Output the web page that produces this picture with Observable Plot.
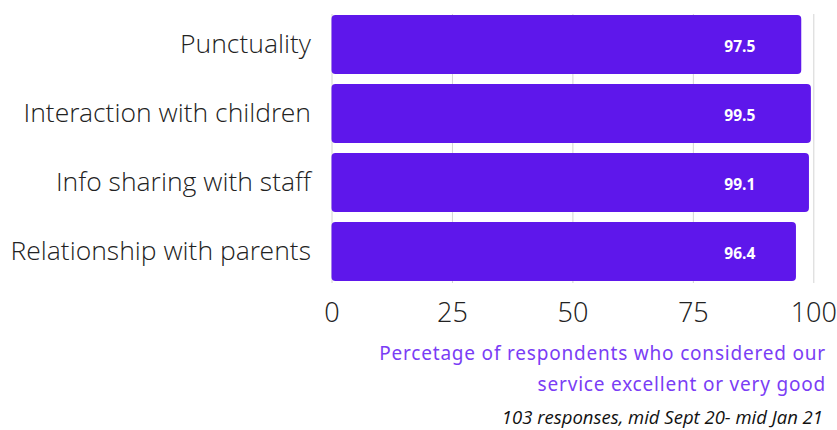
<!DOCTYPE html>
<html>
<head>
<meta charset="utf-8">
<script src="https://cdn.jsdelivr.net/npm/d3@7"></script>
<script src="https://cdn.jsdelivr.net/npm/@observablehq/plot@0.6"></script>
<style>
  html, body { margin: 0; padding: 0; background: #fff; }
  #wrap { position: relative; width: 837px; height: 430px; overflow: hidden; }
  #chart svg { display: block; }
  #subtitle {
    position: absolute; right: 11px; top: 338px; width: 560px;
    text-align: right; font-family: "Noto Sans", sans-serif; font-size: 19px;
    line-height: 31px; color: #7a3df5; letter-spacing: 0.8px;
  }
  #caption {
    position: absolute; right: 14px; top: 404px;
    text-align: right; font-family: "Open Sans", sans-serif; font-style: italic;
    font-size: 18.5px; line-height: 26px; color: #111;
  }
</style>
</head>
<body>
<div id="wrap">
  <div id="chart"></div>
  <div id="subtitle">Percetage of respondents who considered our<br>service excellent or very good</div>
  <div id="caption">103 responses, mid Sept 20- mid Jan 21</div>
</div>
<script>
const categories = ["Punctuality", "Interaction with children", "Info sharing with staff", "Relationship with parents"];
const values = [97.5, 99.5, 99.1, 96.4];
const xTicks = [0, 25, 50, 75, 100];

const data = categories.map((c, i) => ({category: c, value: values[i]}));

const lightFont = "'Open Sans Light', 'Open Sans', sans-serif";

const plot = Plot.plot({
  width: 837,
  height: 335,
  marginLeft: 331.5,
  marginRight: 23.7,
  marginTop: 14,
  marginBottom: 52,
  style: {fontFamily: "'Open Sans', sans-serif", background: "#fff"},
  x: {domain: [0, 100], ticks: xTicks, label: null},
  y: {domain: categories, paddingInner: 0.14, paddingOuter: 0, label: null},
  marks: [
    Plot.gridX(xTicks, {stroke: "#d4d4d4", strokeOpacity: 1, strokeWidth: 1}),
    Plot.barX(data, {x: "value", y: "category", fill: "#5e17eb", rx: 4}),
    Plot.text(data, {
      y: "category", text: d => d.value.toFixed(1),
      frameAnchor: "right", dx: -74, dy: 2, textAnchor: "middle",
      fill: "#fff", fontWeight: "bold", fontSize: 15.5
    }),
    Plot.axisX({ticks: xTicks, tickSize: 0, tickPadding: 19, fontSize: 27, fontWeight: 300, fontFamily: lightFont, fill: "#222", label: null}),
    Plot.axisY({tickSize: 0, tickPadding: 21, fontSize: 26.5, fontWeight: 300, fontFamily: lightFont, fill: "#222", label: null})
  ]
});
document.getElementById("chart").appendChild(plot);
</script>
</body>
</html>
